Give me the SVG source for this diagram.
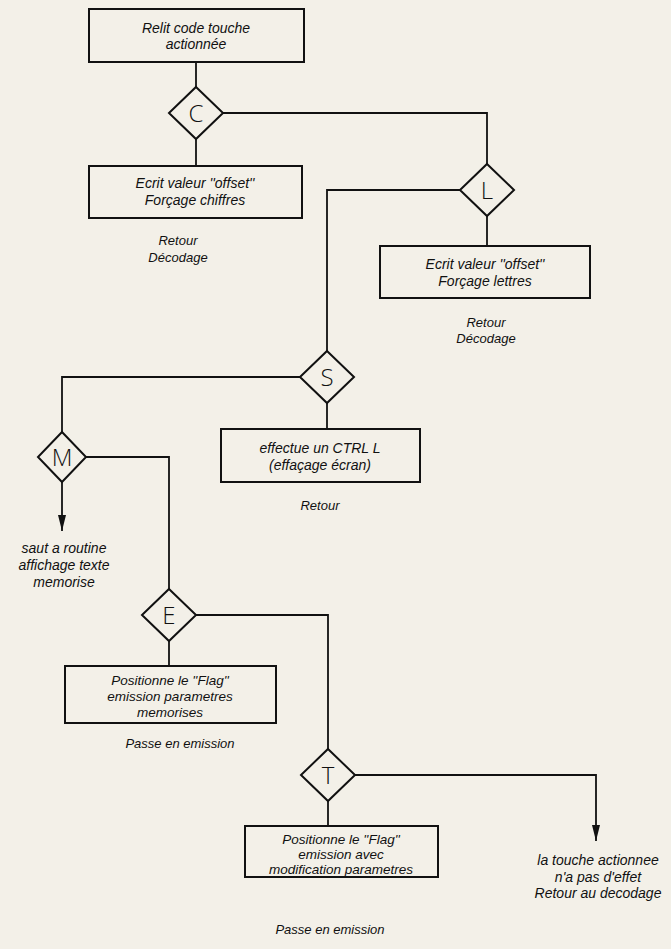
<svg xmlns="http://www.w3.org/2000/svg" width="671" height="949" viewBox="0 0 671 949">
<defs>
<marker id="arr" viewBox="0 0 20 10" refX="20" refY="5" markerWidth="18" markerHeight="8" orient="auto" markerUnits="userSpaceOnUse"><path d="M0,0 L20,5 L0,10 z" fill="#111"/></marker>
</defs>
<style>
.box{fill:none;stroke:#111;stroke-width:2}
.dia{fill:#f3f0e8;stroke:#111;stroke-width:2}
.ln{fill:none;stroke:#111;stroke-width:1.8}
.t{font-family:"Liberation Sans","Open Sans",sans-serif;font-style:italic;font-size:14px;fill:#111;text-anchor:middle}
.t3{font-family:"Liberation Sans","Open Sans",sans-serif;font-style:italic;font-size:13.5px;fill:#111;text-anchor:middle}
.s{font-family:"Liberation Sans","Open Sans",sans-serif;font-style:italic;font-size:13px;fill:#111;text-anchor:middle}
.d{font-family:"Open Sans","Liberation Sans",sans-serif;font-size:24px;font-weight:300;fill:#111;text-anchor:middle}
</style>
<rect width="671" height="949" fill="#f3f0e8"/>
<g id="connectors">
<path class="ln" d="M196,62 V87"/>
<path class="ln" d="M196,139 V166"/>
<path class="ln" d="M223,113 H487 V164"/>
<path class="ln" d="M487,216 V246"/>
<path class="ln" d="M460,190 H327 V351"/>
<path class="ln" d="M327,403 V429"/>
<path class="ln" d="M300,377 H62 V432"/>
<path class="ln" d="M62,482 V531" marker-end="url(#arr)"/>
<path class="ln" d="M86,457 H169 V589"/>
<path class="ln" d="M169,641 V666"/>
<path class="ln" d="M196,615 H328 V749"/>
<path class="ln" d="M328,801 V826"/>
<path class="ln" d="M355,775 H596 V841" marker-end="url(#arr)"/>
</g>
<g id="n_relit">
<rect class="box" x="89" y="9" width="215" height="53"/>
<text class="t" x="196" y="33">Relit code touche</text>
<text class="t" x="196" y="49">actionnée</text>
</g>
<g id="n_C">
<polygon class="dia" points="196,87 223,113 196,139 169,113"/>
<text class="d" x="196" y="122">C</text>
</g>
<g id="n_chiffres">
<rect class="box" x="89" y="166" width="213" height="52"/>
<text class="t" x="195" y="188">Ecrit valeur ''offset''</text>
<text class="t" x="195" y="205">Forçage chiffres</text>
<text class="s" x="178" y="245">Retour</text>
<text class="s" x="178" y="262">Décodage</text>
</g>
<g id="n_L">
<polygon class="dia" points="487,164 514,190 487,216 460,190"/>
<text class="d" x="487" y="199">L</text>
</g>
<g id="n_lettres">
<rect class="box" x="380" y="246" width="210" height="52"/>
<text class="t" x="485" y="269">Ecrit valeur ''offset''</text>
<text class="t" x="485" y="286">Forçage lettres</text>
<text class="s" x="486" y="327">Retour</text>
<text class="s" x="486" y="343">Décodage</text>
</g>
<g id="n_S">
<polygon class="dia" points="327,351 354,377 327,403 300,377"/>
<text class="d" x="327" y="386">S</text>
</g>
<g id="n_ctrl">
<rect class="box" x="221" y="429" width="199" height="53"/>
<text class="t" x="320" y="453">effectue un CTRL L</text>
<text class="t" x="320" y="470">(effaçage écran)</text>
<text class="s" x="320" y="510">Retour</text>
</g>
<g id="n_M">
<polygon class="dia" points="62,432 86,457 62,482 38,457"/>
<text class="d" x="62" y="466">M</text>
</g>
<g id="n_saut">
<text class="t" x="64" y="553">saut a routine</text>
<text class="t" x="64" y="570">affichage texte</text>
<text class="t" x="64" y="587">memorise</text>
</g>
<g id="n_E">
<polygon class="dia" points="169,589 196,615 169,641 142,615"/>
<text class="d" x="169" y="624">E</text>
</g>
<g id="n_flag1">
<rect class="box" x="65" y="666" width="211" height="57"/>
<text class="t3" x="170" y="685">Positionne le ''Flag''</text>
<text class="t3" x="170" y="701">emission parametres</text>
<text class="t3" x="170" y="717">memorises</text>
<text class="s" x="180" y="748">Passe en emission</text>
</g>
<g id="n_T">
<polygon class="dia" points="328,749 355,775 328,801 301,775"/>
<text class="d" x="328" y="784">T</text>
</g>
<g id="n_flag2">
<rect class="box" x="245" y="826" width="193" height="51"/>
<text class="t3" x="341" y="844">Positionne le ''Flag''</text>
<text class="t3" x="341" y="859">emission avec</text>
<text class="t3" x="341" y="874">modification parametres</text>
<text class="s" x="330" y="934">Passe en emission</text>
</g>
<g id="n_touche">
<text class="t" x="598" y="865">la touche actionnee</text>
<text class="t" x="598" y="882">n'a pas d'effet</text>
<text class="t" x="598" y="898">Retour au decodage</text>
</g>
</svg>
